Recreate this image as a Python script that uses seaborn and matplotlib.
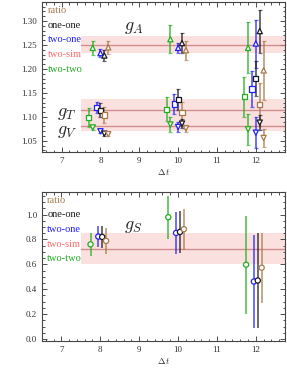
import numpy as np
import pandas as pd
import matplotlib
matplotlib.use("Agg")
import matplotlib.pyplot as plt
import seaborn as sns
from matplotlib.ticker import MultipleLocator

# time separations
dt = [8, 10, 12]
sources = ["two-two", "two-one", "one-one", "ratio"]

# g_A (triangles up)
gA_vals = {"two-two": [1.244, 1.262, 1.244], "two-one": [1.233, 1.244, 1.253],
           "one-one": [1.228, 1.254, 1.279], "ratio": [1.245, 1.239, 1.197]}
gA_errs = {"two-two": [0.015, 0.029, 0.053], "two-one": [0.008, 0.011, 0.050],
           "one-one": [0.012, 0.020, 0.045], "ratio": [0.014, 0.020, 0.062]}
# g_T (squares)
gT_vals = {"two-two": [1.098, 1.116, 1.142], "two-one": [1.120, 1.127, 1.158],
           "one-one": [1.114, 1.136, 1.180], "ratio": [1.104, 1.109, 1.126]}
gT_errs = {"two-two": [0.020, 0.025, 0.042], "two-one": [0.012, 0.021, 0.037],
           "one-one": [0.014, 0.022, 0.037], "ratio": [0.017, 0.023, 0.045]}
# g_V (triangles down)
gV_vals = {"two-two": [1.078, 1.084, 1.074], "two-one": [1.070, 1.079, 1.067],
           "one-one": [1.065, 1.086, 1.088], "ratio": [1.064, 1.076, 1.056]}
gV_errs = {"two-two": [0.006, 0.015, 0.033], "two-one": [0.004, 0.011, 0.032],
           "one-one": [0.004, 0.009, 0.016], "ratio": [0.003, 0.008, 0.019]}
# g_S (circles)
gS_vals = {"two-two": [0.760, 0.978, 0.597], "two-one": [0.823, 0.852, 0.462],
           "one-one": [0.820, 0.860, 0.470], "ratio": [0.788, 0.882, 0.573]}
gS_errs = {"two-two": [0.090, 0.171, 0.393], "two-one": [0.083, 0.168, 0.372],
           "one-one": [0.090, 0.170, 0.380], "ratio": [0.105, 0.165, 0.282]}

# two-sim fit results (central, error)
fit_gA = (1.251, 0.017)
fit_gT = (1.114, 0.023)
fit_gV = (1.081, 0.011)
fit_gS = (0.726, 0.126)

colors = {"ratio": "#a8784a", "one-one": "#1a1a1a", "two-one": "#2020ff",
          "two-sim": "#ff6a6a", "two-two": "#1fae1f"}
legend_order = ["ratio", "one-one", "two-one", "two-sim", "two-two"]

sns.set_style("ticks")
plt.rcParams["font.family"] = ["Liberation Serif", "DejaVu Serif"]
plt.rcParams["mathtext.fontset"] = "cm"

fig = plt.figure(figsize=(2.87, 3.68), dpi=100)
ax1 = fig.add_axes([0.147, 0.586, 0.846, 0.409])
ax2 = fig.add_axes([0.146, 0.074, 0.847, 0.405])


def draw_charge(ax, vals, errs, offsets, marker, capsize):
    rows = []
    for src, off in zip(sources, offsets):
        for t, v, e in zip(dt, vals[src], errs[src]):
            rows.append({"dt": t + off, "val": v, "err": e, "src": src})
    df = pd.DataFrame(rows)
    for src in sources:
        d = df[df.src == src]
        ax.errorbar(d.dt, d.val, yerr=d.err, fmt="none", ecolor=colors[src],
                    alpha=0.65, elinewidth=1.4, capsize=capsize, capthick=0.9, zorder=2)
    sns.scatterplot(data=df, x="dt", y="val", hue="src", palette=colors, marker=marker,
                    s=14, linewidth=0.9, legend=False, ax=ax, zorder=3)
    pts = ax.collections[-1]
    pts.set_edgecolors(pts.get_facecolors())
    pts.set_facecolors("white")


def draw_band(ax, fit):
    c, e = fit
    ax.fill_between([7.5, 13.5], c - e, c + e, color="#f8c8c8", alpha=0.55, lw=0, zorder=0)
    ax.plot([7.5, 13.5], [c, c], color="#c87878", lw=1.0, alpha=0.8, zorder=1)


off_a = [-0.2, 0.0, 0.1, 0.2]
off_t = [-0.3, -0.1, 0.0, 0.1]
off_s = [-0.25, -0.05, 0.05, 0.15]

for fit in (fit_gA, fit_gT, fit_gV):
    draw_band(ax1, fit)
draw_charge(ax1, gA_vals, gA_errs, off_a, "^", 1.5)
draw_charge(ax1, gT_vals, gT_errs, off_t, "s", 1.5)
draw_charge(ax1, gV_vals, gV_errs, off_a, "v", 1.5)

draw_band(ax2, fit_gS)
draw_charge(ax2, gS_vals, gS_errs, off_s, "o", 0)

ax1.set_ylim(1.026, 1.34)
ax1.yaxis.set_major_locator(MultipleLocator(0.05))
ax1.yaxis.set_minor_locator(MultipleLocator(0.01))
ax1.yaxis.set_major_formatter(matplotlib.ticker.FormatStrFormatter("%.2f"))
ax2.set_ylim(-0.014, 1.183)
ax2.yaxis.set_major_locator(MultipleLocator(0.2))
ax2.yaxis.set_minor_locator(MultipleLocator(0.05))
ax2.yaxis.set_major_formatter(matplotlib.ticker.FormatStrFormatter("%.1f"))

for ax in (ax1, ax2):
    ax.set_xlim(6.5, 12.75)
    ax.xaxis.set_major_locator(MultipleLocator(1))
    ax.xaxis.set_minor_locator(MultipleLocator(0.2))
    ax.tick_params(which="both", direction="in", top=True, right=True,
                   labelsize=6.5, colors="#333333", width=0.6)
    ax.tick_params(which="major", length=3.5)
    ax.tick_params(which="minor", length=1.8)
    for sp in ax.spines.values():
        sp.set_linewidth(0.8)
        sp.set_color("#444444")
    ax.set_xlabel(r"$\Delta\, t$", fontsize=6.5)
    ax.set_ylabel("")
    for i, name in enumerate(legend_order):
        ax.text(0.022, 0.943 - 0.098 * i, name, transform=ax.transAxes,
                color=colors[name], fontsize=7.5, va="center", ha="left")
ax1.xaxis.set_label_coords(0.5, -0.1)
ax2.xaxis.set_label_coords(0.5, -0.1)

ax1.text(8.6, 1.287, r"$g_A$", fontsize=13, va="center", ha="left")
ax1.text(6.87, 1.107, r"$g_T$", fontsize=13, va="center", ha="left")
ax1.text(6.87, 1.069, r"$g_V$", fontsize=13, va="center", ha="left")
ax2.text(8.62, 0.905, r"$g_S$", fontsize=13, va="center", ha="left")

fig.savefig("out.png", dpi=100)
